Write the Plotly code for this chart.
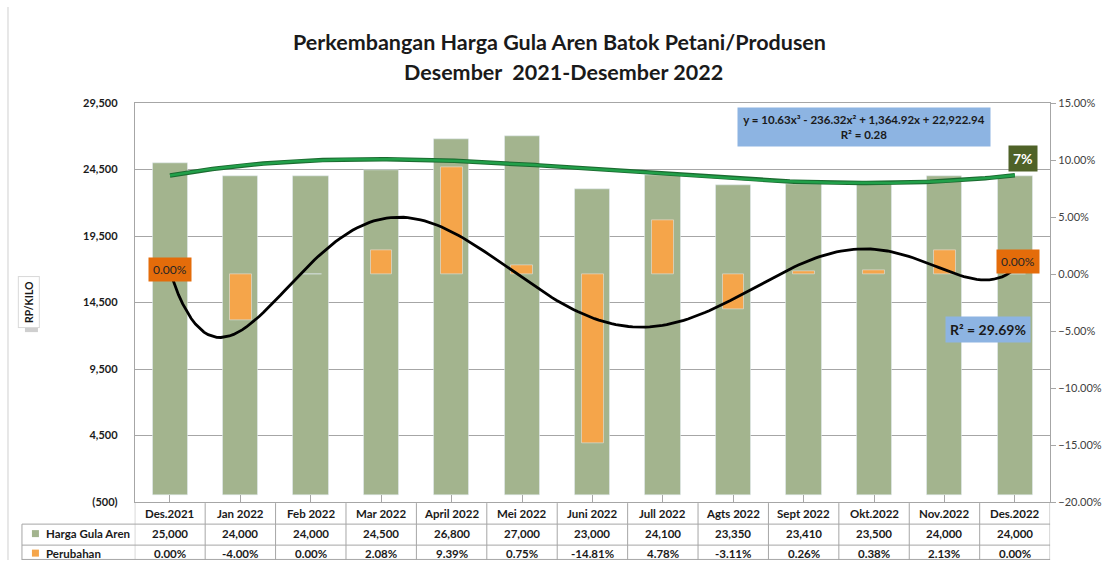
import numpy as np
import plotly.graph_objects as go

bulan = ["Des.2021", "Jan 2022", "Feb 2022", "Mar 2022", "April 2022", "Mei 2022", "Juni 2022",
         "Jull 2022", "Agts 2022", "Sept 2022", "Okt.2022", "Nov.2022", "Des.2022"]
harga = [25000, 24000, 24000, 24500, 26800, 27000, 23000, 24100, 23350, 23410, 23500, 24000, 24000]
perubahan = [0.0, -0.04, 0.0, 0.0208, 0.0939, 0.0075, -0.1481, 0.0478, -0.0311, 0.0026, 0.0038, 0.0213, 0.0]
baris = ["Harga Gula Aren", "Perubahan"]

harga_ticks = [-500, 4500, 9500, 14500, 19500, 24500, 29500]
persen_ticks = [-0.20, -0.15, -0.10, -0.05, 0.0, 0.05, 0.10, 0.15]

GREEN_BAR = "#A3B48E"
ORANGE_BAR = "#F5A54A"
FONT = "Lato, Roboto, sans-serif"
W, H = 1102, 566
GRID = "#A6A6A6"
TXT = "#1a1a1a"


def py(px):
    # wanted on-screen pixel row -> paper y (the page comes out slightly squeezed vertically)
    return 1 - ((px - 6.9) / 0.977) / H


# excel-style polynomial trendlines (x = 1..13)
xi = np.arange(1, len(bulan) + 1)
xs = np.linspace(1, len(bulan), 200)
fit_harga = np.polyval(np.polyfit(xi, harga, 3), xs)
fit_persen = np.polyval(np.polyfit(xi, perubahan, 6), xs)
xs_pos = xs - 1  # category index positions
idx = list(range(len(bulan)))

fig = go.Figure()
fig.add_trace(go.Bar(x=idx, y=harga, marker_color=GREEN_BAR, width=0.5,
                     name="Harga Gula Aren", showlegend=False))
fig.add_trace(go.Bar(x=idx, y=perubahan, marker_color=ORANGE_BAR, width=0.31,
                     name="Perubahan", yaxis="y2", showlegend=False))
fig.add_trace(go.Scatter(x=xs_pos, y=fit_harga, mode="lines", line=dict(color="#1B6B30", width=4.5),
                         hoverinfo="skip", showlegend=False))
fig.add_trace(go.Scatter(x=xs_pos, y=fit_harga, mode="lines", line=dict(color="#22A04A", width=2.5),
                         hoverinfo="skip", showlegend=False))
fig.add_trace(go.Scatter(x=xs_pos, y=fit_persen, mode="lines", line=dict(color="#000000", width=2.8),
                         yaxis="y2", hoverinfo="skip", showlegend=False))

# ---- data table under the plot, built from lines + text
row_y = [513, 533.5, 553]
row_edges = [503, 524, 545, 566]

shapes = [dict(type="line", xref="paper", yref="paper", x0=8 / W, x1=8 / W, y0=0, y1=1,
               line=dict(color="#D0D0D0", width=1), layer="below")]
for e in row_edges[1:]:
    shapes.append(dict(type="line", xref="paper", yref="paper", x0=22 / W, x1=1052 / W,
                       y0=max(py(e), 0.001), y1=max(py(e), 0.001), line=dict(color=GRID, width=1)))
for i in range(len(bulan) + 1):
    shapes.append(dict(type="line", xref="x", yref="paper", x0=i - 0.5, x1=i - 0.5,
                       y0=py(503), y1=0, line=dict(color=GRID, width=1)))
shapes.append(dict(type="line", xref="paper", yref="paper", x0=22 / W, x1=22 / W,
                   y0=py(524), y1=0, line=dict(color=GRID, width=1)))
for r, col in zip(row_y[1:], [GREEN_BAR, ORANGE_BAR]):
    shapes.append(dict(type="rect", xref="paper", yref="paper", x0=32 / W, x1=39 / W,
                       y0=py(r + 3.5), y1=py(r - 3.5), fillcolor=col, line=dict(width=0)))
# soft shadow behind the axis-title box
shapes.append(dict(type="rect", xref="paper", yref="paper", x0=25 / W, x1=38 / W,
                   y0=py(332), y1=py(278), fillcolor="#CFCFCF", line=dict(width=0), layer="below"))

annotations = []
tfont = dict(family=FONT, size=11.5, color=TXT, weight="bold")
for i, (b, h, p) in enumerate(zip(bulan, harga, perubahan)):
    for txt, r in zip([b, "{:,}".format(h), "{:.2f}%".format(p * 100)], row_y):
        annotations.append(dict(text=txt, xref="x", yref="paper", x=i, y=py(r), yanchor="middle",
                                showarrow=False, font=tfont))
for txt, r in zip(baris, row_y[1:]):
    annotations.append(dict(text=txt, xref="paper", yref="paper", x=44 / W, y=py(r), xanchor="left",
                            yanchor="middle", showarrow=False, font=tfont))

annotations += [
    dict(text="<b>Perkembangan Harga Gula Aren Batok Petani/Produsen</b>", xref="paper", yref="paper",
         x=561 / W, y=py(42), yanchor="middle", showarrow=False,
         font=dict(family=FONT, size=21.5, color=TXT)),
    dict(text="<b>Desember  2021-Desember 2022</b>", xref="paper", yref="paper",
         x=565 / W, y=py(72), yanchor="middle", showarrow=False,
         font=dict(family=FONT, size=21.5, color=TXT)),
    dict(text="<b>RP/KILO</b>", textangle=-90, xref="paper", yref="paper", x=29 / W, y=py(302),
         xanchor="center", yanchor="middle", showarrow=False, bordercolor="#D9D9D9", borderwidth=1,
         bgcolor="white", borderpad=4, font=dict(family=FONT, size=10.5, color=TXT)),
    dict(text="<b>y = 10.63x³ - 236.32x² + 1,364.92x + 22,922.94<br>R² = 0.28</b>",
         xref="x", yref="y2", x=9.85, y=0.129, showarrow=False, bgcolor="#8DB4E2",
         borderpad=5, width=242, font=dict(family=FONT, size=11.5, color=TXT)),
    dict(text="<b>7%</b>", xref="x", yref="y", x=len(bulan) - 1 + 0.12, y=fit_harga[-1],
         yshift=17, showarrow=False, bgcolor="#4F6228", borderpad=4,
         font=dict(family=FONT, size=14, color="white")),
    dict(text="0.00%", xref="x", yref="y2", x=0, y=perubahan[0], yshift=5, showarrow=False,
         bgcolor="#E46C0A", borderpad=4, font=dict(family=FONT, size=12, color="#262626")),
    dict(text="0.00%", xref="x", yref="y2", x=len(bulan) - 1 + 0.05, y=perubahan[-1], yshift=13,
         showarrow=False, bgcolor="#E46C0A", borderpad=4, font=dict(family=FONT, size=12, color="#262626")),
    dict(text="<b>R² = 29.69%</b>", xref="x", yref="y2", x=11.62, y=-0.0485, showarrow=False,
         bgcolor="#8DB4E2", borderpad=4, font=dict(family=FONT, size=14, color=TXT)),
]

fig.update_layout(
    width=W, height=H,
    margin=dict(l=0, r=0, t=0, b=0),
    paper_bgcolor="white", plot_bgcolor="white",
    barmode="overlay", bargap=0,
    font=dict(family=FONT, size=12, color="#262626"),
    xaxis=dict(domain=[135 / W, 1052 / W], range=[-0.5, len(bulan) - 0.5],
               showticklabels=False, showgrid=False, zeroline=False,
               tickvals=idx, tickson="boundaries", ticks="inside", ticklen=7, tickcolor=GRID,
               showline=True, linecolor=GRID, mirror=True),
    yaxis=dict(domain=[py(502), py(103)], range=[-500, 29500],
               tickvals=harga_ticks,
               ticktext=["({:,})".format(-v) if v < 0 else "{:,}".format(v) for v in harga_ticks],
               showgrid=True, gridcolor=GRID, zeroline=False,
               showline=True, linecolor=GRID, ticks="", ticklabelstandoff=14,
               tickfont=dict(family=FONT, size=11, color=TXT, weight="bold")),
    yaxis2=dict(overlaying="y", side="right", range=[-0.20, 0.15], tickvals=persen_ticks,
                tickformat=".2%", showgrid=False, zeroline=False,
                showline=True, linecolor=GRID, ticks="outside", ticklen=5, tickcolor=GRID,
                tickfont=dict(family=FONT, size=11, color="#404040")),
    shapes=shapes,
    annotations=annotations,
)

fig.write_html("out.html", post_script="document.body.style.margin='0';",
               config={"displayModeBar": False})
